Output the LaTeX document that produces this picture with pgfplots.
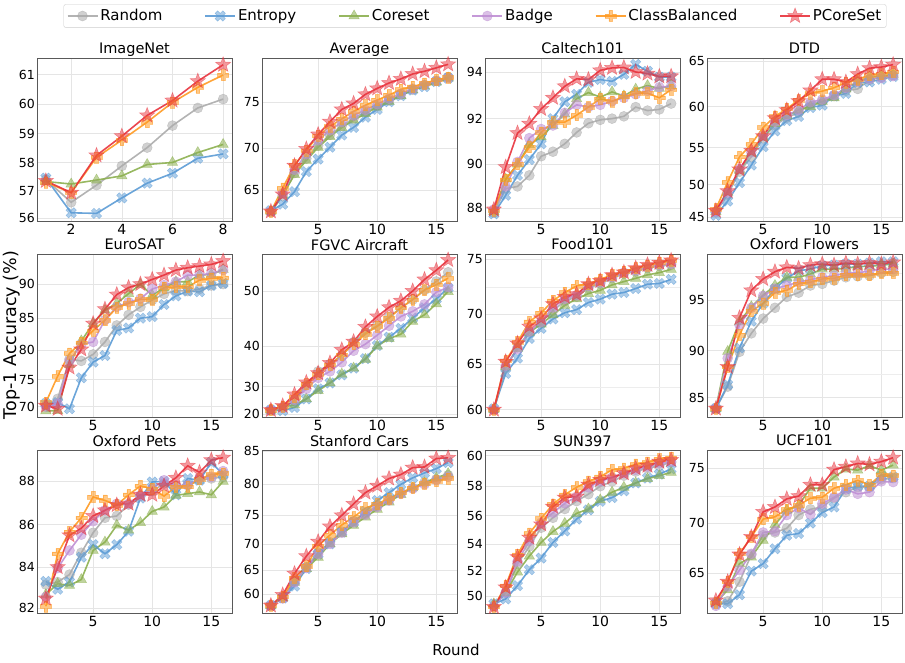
\documentclass[border=0pt]{standalone}
\usepackage{fontspec}
\setmainfont{DejaVu Sans}
\usepackage{pgfplots}
\pgfplotsset{compat=1.18}

\definecolor{cR}{HTML}{ABABAB}
\definecolor{cE}{HTML}{5B9BD5}
\definecolor{cC}{HTML}{8CB04F}
\definecolor{cB}{HTML}{BF8FD4}
\definecolor{cCB}{HTML}{FF9A22}
\definecolor{cP}{HTML}{E8323C}

% filled markers like matplotlib's '*', 'P' and 'X'
\pgfdeclareplotmark{fstar}{%
  \pgfpathmoveto{\pgfpointpolar{90}{\pgfplotmarksize}}%
  \pgfpathlineto{\pgfpointpolar{126}{0.42\pgfplotmarksize}}%
  \pgfpathlineto{\pgfpointpolar{162}{\pgfplotmarksize}}%
  \pgfpathlineto{\pgfpointpolar{198}{0.42\pgfplotmarksize}}%
  \pgfpathlineto{\pgfpointpolar{234}{\pgfplotmarksize}}%
  \pgfpathlineto{\pgfpointpolar{270}{0.42\pgfplotmarksize}}%
  \pgfpathlineto{\pgfpointpolar{306}{\pgfplotmarksize}}%
  \pgfpathlineto{\pgfpointpolar{342}{0.42\pgfplotmarksize}}%
  \pgfpathlineto{\pgfpointpolar{18}{\pgfplotmarksize}}%
  \pgfpathlineto{\pgfpointpolar{54}{0.42\pgfplotmarksize}}%
  \pgfpathclose\pgfusepathqfillstroke}
\pgfdeclareplotmark{fplus}{%
  \pgfpathmoveto{\pgfpoint{-0.33\pgfplotmarksize}{\pgfplotmarksize}}%
  \pgfpathlineto{\pgfpoint{0.33\pgfplotmarksize}{\pgfplotmarksize}}%
  \pgfpathlineto{\pgfpoint{0.33\pgfplotmarksize}{0.33\pgfplotmarksize}}%
  \pgfpathlineto{\pgfpoint{\pgfplotmarksize}{0.33\pgfplotmarksize}}%
  \pgfpathlineto{\pgfpoint{\pgfplotmarksize}{-0.33\pgfplotmarksize}}%
  \pgfpathlineto{\pgfpoint{0.33\pgfplotmarksize}{-0.33\pgfplotmarksize}}%
  \pgfpathlineto{\pgfpoint{0.33\pgfplotmarksize}{-\pgfplotmarksize}}%
  \pgfpathlineto{\pgfpoint{-0.33\pgfplotmarksize}{-\pgfplotmarksize}}%
  \pgfpathlineto{\pgfpoint{-0.33\pgfplotmarksize}{-0.33\pgfplotmarksize}}%
  \pgfpathlineto{\pgfpoint{-\pgfplotmarksize}{-0.33\pgfplotmarksize}}%
  \pgfpathlineto{\pgfpoint{-\pgfplotmarksize}{0.33\pgfplotmarksize}}%
  \pgfpathlineto{\pgfpoint{-0.33\pgfplotmarksize}{0.33\pgfplotmarksize}}%
  \pgfpathclose\pgfusepathqfillstroke}
\pgfdeclareplotmark{fx}{\pgftransformrotate{45}\pgfuseplotmark{fplus}}

\pgfplotsset{
  panel/.style={
    width=195pt, height=163pt, scale only axis, anchor=south west,
    xmin=0.25, xmax=16.75, xtick={5,10,15}, xticklabels={5,10,15},
    y coord trafo/.code={\pgfmathparse{exp(2.2*ln(##1/10))}},
    y coord inv trafo/.code={\pgfmathparse{10*exp(ln(##1)/2.2)}},
    axis line style={black!65, line width=0.8pt},
    xmajorgrids, ymajorgrids,
    grid style={black!10, line width=0.6pt},
    minor grid style={black!7, line width=0.5pt},
    major tick length=0pt, minor tick length=0pt,
    xticklabel style={font=\fontsize{14}{14}\selectfont, inner ysep=3pt},
    yticklabel style={font=\fontsize{12.5}{14}\selectfont, inner xsep=2pt},
    title style={font=\fontsize{14.5}{17}\selectfont, anchor=base, yshift=-2pt, inner ysep=1pt},
  },
  sR/.style={cR, line width=1.6pt, opacity=0.9, mark=*, mark size=5pt,
    mark options={opacity=0.55, line width=0.5pt}},
  sE/.style={cE, line width=1.6pt, opacity=0.9, mark=fx, mark size=5.5pt,
    mark options={opacity=0.5, line width=0.5pt}},
  sC/.style={cC, line width=1.6pt, opacity=0.9, mark=triangle*, mark size=6pt,
    mark options={opacity=0.55, line width=0.5pt}},
  sB/.style={cB, line width=1.6pt, opacity=0.9, mark=*, mark size=5pt,
    mark options={opacity=0.55, line width=0.5pt}},
  sCB/.style={cCB, line width=1.6pt, opacity=0.9, mark=fplus, mark size=5.5pt,
    mark options={opacity=0.55, line width=0.5pt}},
  sP/.style={cP, line width=1.6pt, opacity=0.9, mark=fstar, mark size=8pt,
    mark options={opacity=0.5, line width=0.5pt}},
}

\begin{document}
\begin{tikzpicture}
\useasboundingbox (0,0) rectangle (905pt,662pt);

% ---------------- row 1 ----------------
\begin{axis}[panel, at={(37pt,441pt)}, title={ImageNet},
  xmin=0.65, xmax=8.35, xtick={2,4,6,8}, xticklabels={2,4,6,8},
  ymin=55.90, ymax=61.54, ytick={56,57,58,59,60,61}, yticklabels={56,57,58,59,60,61}]
\addplot[sR] coordinates {(1,57.40)(2,56.58)(3,57.20)(4,57.88)(5,58.52)(6,59.28)(7,59.88)(8,60.18)};
\addplot[sE] coordinates {(1,57.45)(2,56.20)(3,56.18)(4,56.74)(5,57.27)(6,57.62)(7,58.15)(8,58.30)};
\addplot[sC] coordinates {(1,57.33)(2,57.24)(3,57.38)(4,57.53)(5,57.93)(6,58.00)(7,58.35)(8,58.63)};
\addplot[sCB] coordinates {(1,57.30)(2,56.93)(3,58.18)(4,58.78)(5,59.40)(6,60.07)(7,60.57)(8,60.98)};
\addplot[sP] coordinates {(1,57.35)(2,56.93)(3,58.25)(4,58.92)(5,59.63)(6,60.13)(7,60.78)(8,61.32)};
\end{axis}

\begin{axis}[panel, at={(262pt,441pt)}, title={Average},
  ymin=61.04, ymax=79.48, ytick={65,70,75}, yticklabels={65,70,75},
  legend columns=6, legend cell align=left,
  legend style={at={(1.0923,1.2577)}, anchor=center, draw=black!20, rounded corners=2pt,
    font=\fontsize{15}{17}\selectfont, inner sep=3pt,
    /tikz/every even column/.append style={column sep=40pt}},
  legend image code/.code={\draw[mark repeat=2,mark phase=2,#1] plot coordinates {(0pt,0pt) (15pt,0pt) (30pt,0pt)};}]
\addplot[sR] coordinates {(1,62.2)(2,64.3)(3,67.1)(4,68.8)(5,70.3)(6,71.5)(7,72.5)(8,73.3)(9,74.0)(10,74.6)(11,75.2)(12,75.8)(13,76.3)(14,76.8)(15,77.2)(16,77.6)};
\addplot[sE] coordinates {(1,62.4)(2,63.24)(3,64.83)(4,67.27)(5,68.75)(6,70.11)(7,71.47)(8,72.32)(9,73.42)(10,74.26)(11,75.07)(12,75.69)(13,76.28)(14,76.62)(15,77.14)(16,77.48)};
\addplot[sC] coordinates {(1,62.3)(2,64.4)(3,66.9)(4,68.6)(5,70.1)(6,71.3)(7,72.3)(8,73.1)(9,73.8)(10,74.5)(11,75.1)(12,75.7)(13,76.3)(14,76.7)(15,77.1)(16,77.5)};
\addplot[sB] coordinates {(1,62.3)(2,64.6)(3,67.5)(4,69.3)(5,70.9)(6,72.0)(7,72.9)(8,73.6)(9,74.2)(10,74.8)(11,75.4)(12,75.9)(13,76.4)(14,76.8)(15,77.2)(16,77.5)};
\addplot[sCB] coordinates {(1,62.3)(2,65.25)(3,68.05)(4,69.73)(5,71.4)(6,72.43)(7,73.24)(8,74.04)(9,74.7)(10,75.24)(11,75.76)(12,76.34)(13,76.62)(14,76.97)(15,77.31)(16,77.55)};
\addplot[sP] coordinates {(1,62.31)(2,64.5)(3,67.97)(4,69.92)(5,71.54)(6,72.94)(7,74.26)(8,74.89)(9,75.83)(10,76.45)(11,77.0)(12,77.41)(13,77.9)(14,78.17)(15,78.52)(16,78.86)};
\legend{Random,Entropy,Coreset,Badge,ClassBalanced,PCoreSet}
\end{axis}

\begin{axis}[panel, at={(485pt,441pt)}, title={Caltech101},
  ymin=87.42, ymax=94.59, ytick={88,90,92,94}, yticklabels={88,90,92,94}]
\addplot[sR] coordinates {(1,87.8)(2,88.9)(3,89.0)(4,89.5)(5,90.35)(6,90.55)(7,90.9)(8,91.4)(9,91.8)(10,91.95)(11,92.0)(12,92.1)(13,92.5)(14,92.35)(15,92.4)(16,92.65)};
\addplot[sE] coordinates {(1,87.75)(2,88.6)(3,89.5)(4,90.2)(5,90.9)(6,92.0)(7,92.73)(8,93.05)(9,93.56)(10,93.68)(11,93.6)(12,93.9)(13,94.32)(14,94.03)(15,93.78)(16,93.78)};
\addplot[sC] coordinates {(1,87.85)(2,89.33)(3,90.0)(4,90.86)(5,91.2)(6,91.7)(7,92.2)(8,92.86)(9,93.12)(10,92.93)(11,93.15)(12,92.98)(13,93.27)(14,93.42)(15,93.3)(16,93.42)};
\addplot[sB] coordinates {(1,87.95)(2,89.0)(3,90.1)(4,91.15)(5,91.55)(6,91.7)(7,92.25)(8,92.6)(9,92.5)(10,92.6)(11,92.75)(12,92.9)(13,93.05)(14,93.2)(15,93.35)(16,93.4)};
\addplot[sCB] coordinates {(1,87.9)(2,89.3)(3,90.0)(4,90.75)(5,91.4)(6,91.85)(7,91.85)(8,92.15)(9,92.5)(10,92.85)(11,92.75)(12,92.95)(13,93.1)(14,93.1)(15,92.9)(16,93.25)};
\addplot[sP] coordinates {(1,87.95)(2,89.87)(3,91.37)(4,91.78)(5,92.42)(6,92.9)(7,93.39)(8,93.71)(9,93.68)(10,94.07)(11,94.17)(12,94.19)(13,94.0)(14,93.93)(15,93.81)(16,93.82)};
\end{axis}

\begin{axis}[panel, at={(707pt,441pt)}, title={DTD},
  ymin=44.38, ymax=65.33, ytick={45,50,55,60,65}, yticklabels={45,50,55,60,65}]
\addplot[sR] coordinates {(1,45.8)(2,48.5)(3,51.8)(4,53.8)(5,56.2)(6,57.8)(7,58.7)(8,59.3)(9,60.3)(10,60.6)(11,61.2)(12,61.8)(13,62.0)(14,63.0)(15,63.3)(16,63.5)};
\addplot[sE] coordinates {(1,45.3)(2,47.55)(3,50.27)(4,52.7)(5,55.12)(6,57.1)(7,58.35)(8,58.84)(9,59.88)(10,60.15)(11,61.19)(12,61.49)(13,62.69)(14,62.76)(15,63.06)(16,63.36)};
\addplot[sC] coordinates {(1,45.9)(2,48.9)(3,52.0)(4,54.3)(5,56.3)(6,58.0)(7,58.9)(8,59.6)(9,60.0)(10,60.6)(11,61.0)(12,62.0)(13,62.8)(14,63.3)(15,63.4)(16,63.6)};
\addplot[sB] coordinates {(1,45.9)(2,48.8)(3,52.2)(4,54.4)(5,56.5)(6,58.2)(7,59.0)(8,59.6)(9,60.5)(10,60.8)(11,61.3)(12,62.1)(13,62.8)(14,63.1)(15,63.2)(16,63.4)};
\addplot[sCB] coordinates {(1,46.3)(2,50.35)(3,53.8)(4,55.45)(5,57.52)(6,58.84)(7,59.75)(8,60.75)(9,61.49)(10,61.75)(11,62.13)(12,62.69)(13,63.06)(14,63.51)(15,63.62)(16,63.88)};
\addplot[sP] coordinates {(1,46.05)(2,49.03)(3,52.12)(4,54.6)(5,56.45)(6,58.64)(7,59.59)(8,60.63)(9,61.83)(10,63.06)(11,63.06)(12,62.76)(13,63.62)(14,64.25)(15,64.37)(16,64.63)};
\end{axis}

% ---------------- row 2 ----------------
\begin{axis}[panel, at={(37pt,245pt)}, title={EuroSAT},
  ymin=68.0, ymax=94.15, ytick={70,75,80,85,90}, yticklabels={70,75,80,85,90}]
\addplot[sR] coordinates {(1,70.3)(2,71.5)(3,78.5)(4,78.2)(5,79.3)(6,81.3)(7,83.9)(8,85.5)(9,86.7)(10,87.7)(11,88.6)(12,89.1)(13,89.0)(14,89.3)(15,89.8)(16,90.0)};
\addplot[sE] coordinates {(1,70.6)(2,70.8)(3,69.6)(4,75.3)(5,78.0)(6,79.1)(7,83.1)(8,83.5)(9,85.0)(10,85.24)(11,87.05)(12,88.3)(13,89.0)(14,88.9)(15,89.8)(16,90.1)};
\addplot[sC] coordinates {(1,69.2)(2,69.25)(3,77.6)(4,81.47)(5,84.18)(6,86.2)(7,87.2)(8,88.64)(9,89.95)(10,88.4)(11,89.47)(12,90.33)(13,90.33)(14,91.27)(15,91.36)(16,92.05)};
\addplot[sB] coordinates {(1,70.0)(2,70.6)(3,78.2)(4,80.9)(5,81.3)(6,84.73)(7,86.7)(8,87.4)(9,87.9)(10,89.3)(11,89.85)(12,90.33)(13,91.27)(14,91.27)(15,91.5)(16,91.96)};
\addplot[sCB] coordinates {(1,70.8)(2,75.6)(3,79.45)(4,81.2)(5,83.1)(6,84.7)(7,86.6)(8,87.2)(9,87.8)(10,87.8)(11,89.5)(12,89.6)(13,89.6)(14,90.56)(15,90.8)(16,90.9)};
\addplot[sP] coordinates {(1,70.2)(2,69.6)(3,77.09)(4,80.1)(5,84.18)(6,86.36)(7,88.5)(8,89.51)(9,90.0)(10,90.66)(11,91.27)(12,91.96)(13,92.28)(14,92.51)(15,92.74)(16,93.2)};
\end{axis}

\begin{axis}[panel, at={(262pt,245pt)}, title={FGVC Aircraft},
  ymin=18.49, ymax=55.55, ytick={20,30,40,50}, yticklabels={20,30,40,50}]
\addplot[sR] coordinates {(1,21.8)(2,22.7)(3,25.7)(4,30.4)(5,34.2)(6,36.0)(7,37.9)(8,40.8)(9,42.7)(10,44.0)(11,45.6)(12,47.2)(13,48.6)(14,50.15)(15,51.5)(16,52.9)};
\addplot[sE] coordinates {(1,21.8)(2,21.5)(3,22.9)(4,26.1)(5,29.4)(6,31.1)(7,33.3)(8,35.0)(9,37.25)(10,40.1)(11,41.8)(12,43.5)(13,45.4)(14,47.2)(15,48.7)(16,50.5)};
\addplot[sC] coordinates {(1,21.8)(2,23.0)(3,23.9)(4,26.1)(5,28.8)(6,31.1)(7,33.5)(8,35.0)(9,37.1)(10,40.0)(11,41.5)(12,42.4)(13,44.8)(14,46.0)(15,47.9)(16,49.9)};
\addplot[sB] coordinates {(1,21.8)(2,22.7)(3,25.7)(4,29.4)(5,32.5)(6,34.2)(7,36.4)(8,39.0)(9,40.4)(10,42.2)(11,44.0)(12,45.7)(13,46.6)(14,47.8)(15,49.8)(16,50.6)};
\addplot[sCB] coordinates {(1,21.8)(2,23.3)(3,26.7)(4,30.8)(5,33.5)(6,35.8)(7,38.1)(8,40.4)(9,42.4)(10,43.9)(11,45.4)(12,47.2)(13,48.6)(14,50.15)(15,51.0)(16,52.0)};
\addplot[sP] coordinates {(1,21.8)(2,23.5)(3,27.6)(4,31.25)(5,33.75)(6,36.25)(7,39.2)(8,40.9)(9,43.8)(10,45.7)(11,47.3)(12,48.4)(13,50.0)(14,51.8)(15,53.2)(16,54.7)};
\end{axis}

\begin{axis}[panel, at={(485pt,245pt)}, title={Food101},
  ymin=59.15, ymax=75.45, ytick={60,65,70,75}, yticklabels={60,65,70,75},
  minor ytick={62.5,67.5,72.5}, yminorgrids]
\addplot[sR] coordinates {(1,60)(2,64.6)(3,66.7)(4,68.2)(5,69.2)(6,70.3)(7,71.2)(8,71.6)(9,72.4)(10,72.8)(11,73.3)(12,73.7)(13,73.9)(14,74.2)(15,74.4)(16,74.5)};
\addplot[sE] coordinates {(1,60.1)(2,64.0)(3,65.6)(4,67.6)(5,68.6)(6,69.5)(7,70.1)(8,70.4)(9,71.07)(10,71.38)(11,71.84)(12,72.0)(13,72.36)(14,72.76)(15,72.82)(16,73.2)};
\addplot[sC] coordinates {(1,60)(2,64.7)(3,66.6)(4,68.2)(5,69.0)(6,69.9)(7,70.8)(8,71.4)(9,71.9)(10,72.2)(11,72.7)(12,73.0)(13,73.3)(14,73.6)(15,73.8)(16,74.1)};
\addplot[sB] coordinates {(1,60)(2,64.8)(3,66.5)(4,68.3)(5,69.2)(6,70.6)(7,71.4)(8,71.75)(9,72.6)(10,72.9)(11,73.4)(12,73.8)(13,74.0)(14,74.3)(15,74.5)(16,74.6)};
\addplot[sCB] coordinates {(1,60)(2,65.33)(3,67.23)(4,69.23)(5,70.09)(6,71.23)(7,72.0)(8,72.6)(9,72.8)(10,73.2)(11,73.6)(12,73.9)(13,74.2)(14,74.45)(15,74.7)(16,74.9)};
\addplot[sP] coordinates {(1,60)(2,65.23)(3,67.1)(4,68.77)(5,69.57)(6,70.92)(7,71.6)(8,71.84)(9,72.76)(10,73.07)(11,73.59)(12,73.83)(13,74.2)(14,74.5)(15,74.69)(16,74.9)};
\end{axis}

\begin{axis}[panel, at={(707pt,245pt)}, title={Oxford Flowers},
  ymin=82.85, ymax=99.3, ytick={85,90,95}, yticklabels={85,90,95},
  minor ytick={87.5,92.5,97.5}, yminorgrids]
\addplot[sR] coordinates {(1,83.8)(2,86.2)(3,89.86)(4,91.73)(5,93.2)(6,94.25)(7,95.3)(8,95.7)(9,96.38)(10,96.53)(11,96.84)(12,97.15)(13,97.24)(14,97.3)(15,97.55)(16,97.67)};
\addplot[sE] coordinates {(1,83.8)(2,86.4)(3,90.26)(4,92.94)(5,94.67)(6,96.07)(7,97.06)(8,97.76)(9,97.91)(10,98.22)(11,98.28)(12,98.37)(13,98.37)(14,98.47)(15,98.59)(16,98.59)};
\addplot[sC] coordinates {(1,83.8)(2,89.9)(3,92.9)(4,94.35)(5,95.46)(6,96.38)(7,97.15)(8,97.15)(9,97.45)(10,97.91)(11,97.91)(12,97.98)(13,98.16)(14,98.16)(15,98.28)(16,98.37)};
\addplot[sB] coordinates {(1,83.8)(2,89.2)(3,92.55)(4,94.25)(5,95.4)(6,96.07)(7,96.38)(8,96.69)(9,96.93)(10,97.15)(11,97.3)(12,97.55)(13,97.55)(14,97.76)(15,97.91)(16,97.91)};
\addplot[sCB] coordinates {(1,83.8)(2,88.3)(3,91.57)(4,93.92)(5,94.67)(6,95.7)(7,95.92)(8,96.53)(9,96.69)(10,96.99)(11,97.06)(12,97.36)(13,97.36)(14,97.36)(15,97.55)(16,97.55)};
\addplot[sP] coordinates {(1,83.8)(2,88.3)(3,93.27)(4,95.92)(5,96.99)(6,97.67)(7,98.07)(8,97.98)(9,98.28)(10,98.37)(11,98.28)(12,98.47)(13,98.37)(14,98.47)(15,98.37)(16,98.53)};
\end{axis}

% ---------------- row 3 ----------------
\begin{axis}[panel, at={(37pt,49pt)}, title={Oxford Pets},
  ymin=81.77, ymax=89.38, ytick={82,84,86,88}, yticklabels={82,84,86,88}]
\addplot[sR] coordinates {(1,83.16)(2,83.28)(3,83.64)(4,84.68)(5,85.62)(6,86.31)(7,86.4)(8,86.92)(9,87.31)(10,87.53)(11,87.88)(12,87.73)(13,87.83)(14,88.03)(15,88.11)(16,88.18)};
\addplot[sE] coordinates {(1,83.31)(2,82.93)(3,83.28)(4,84.47)(5,85.06)(6,84.63)(7,85.06)(8,85.69)(9,87.22)(10,87.95)(11,87.98)(12,87.37)(13,88.11)(14,88.03)(15,88.83)(16,88.29)};
\addplot[sC] coordinates {(1,82.67)(2,83.2)(3,83.12)(4,83.4)(5,84.79)(6,85.18)(7,85.97)(8,85.74)(9,86.09)(10,86.61)(11,86.81)(12,87.34)(13,87.42)(14,87.5)(15,87.37)(16,87.98)};
\addplot[sB] coordinates {(1,82.56)(2,83.95)(3,84.79)(4,85.53)(5,86.15)(6,86.66)(7,86.96)(8,86.96)(9,87.34)(10,87.65)(11,88.03)(12,87.8)(13,87.8)(14,88.14)(15,88.18)(16,88.44)};
\addplot[sCB] coordinates {(1,82.1)(2,84.63)(3,85.66)(4,86.31)(5,87.27)(6,87.11)(7,86.9)(8,87.37)(9,87.77)(10,87.65)(11,87.31)(12,87.73)(13,87.73)(14,88.08)(15,88.29)(16,88.34)};
\addplot[sP] coordinates {(1,82.48)(2,84.0)(3,85.5)(4,85.83)(5,86.4)(6,86.66)(7,86.9)(8,86.96)(9,87.37)(10,87.37)(11,87.77)(12,88.14)(13,88.68)(14,88.38)(15,88.93)(16,89.04)};
\end{axis}

\begin{axis}[panel, at={(262pt,49pt)}, title={Stanford Cars},
  ymin=55.63, ymax=85.14, ytick={60,65,70,75,80,85}, yticklabels={60,65,70,75,80,85}]
\addplot[sR] coordinates {(1,57.4)(2,59.1)(3,62.7)(4,65.6)(5,68.4)(6,70.3)(7,72.2)(8,74.0)(9,75.3)(10,76.6)(11,77.6)(12,78.7)(13,79.45)(14,80.3)(15,80.8)(16,81.4)};
\addplot[sE] coordinates {(1,57.4)(2,59.1)(3,61.7)(4,65.3)(5,68.1)(6,70.0)(7,72.1)(8,73.8)(9,75.65)(10,77.45)(11,78.7)(12,80.0)(13,81.0)(14,81.75)(15,82.4)(16,83.3)};
\addplot[sC] coordinates {(1,57.4)(2,59.2)(3,62.5)(4,65.3)(5,67.5)(6,70.0)(7,71.8)(8,73.3)(9,74.7)(10,76.0)(11,77.2)(12,78.4)(13,79.45)(14,80.3)(15,81.0)(16,81.65)};
\addplot[sB] coordinates {(1,57.4)(2,59.0)(3,62.5)(4,65.4)(5,68.1)(6,70.0)(7,72.0)(8,73.8)(9,75.1)(10,76.4)(11,77.45)(12,78.5)(13,79.35)(14,80.0)(15,80.65)(16,81.15)};
\addplot[sCB] coordinates {(1,57.4)(2,59.4)(3,63.4)(4,65.8)(5,69.6)(6,71.6)(7,73.35)(8,74.7)(9,76.2)(10,76.9)(11,77.8)(12,78.7)(13,79.45)(14,80.15)(15,80.5)(16,80.9)};
\addplot[sP] coordinates {(1,57.4)(2,59.8)(3,64.3)(4,67.7)(5,70.4)(6,73.1)(7,75.0)(8,76.9)(9,78.7)(10,79.8)(11,80.9)(12,81.5)(13,82.55)(14,82.65)(15,83.9)(16,84.0)};
\end{axis}

\begin{axis}[panel, at={(485pt,49pt)}, title={SUN397},
  ymin=48.66, ymax=60.36, ytick={50,52,54,56,58,60}, yticklabels={50,52,54,56,58,60}]
\addplot[sR] coordinates {(1,49.2)(2,50.3)(3,52.5)(4,53.8)(5,55.15)(6,55.85)(7,56.46)(8,57.0)(9,57.47)(10,58.0)(11,58.32)(12,58.7)(13,58.97)(14,59.18)(15,59.35)(16,59.57)};
\addplot[sE] coordinates {(1,49.4)(2,49.8)(3,50.85)(4,52.08)(5,52.95)(6,54.1)(7,54.92)(8,55.76)(9,56.4)(10,56.98)(11,57.24)(12,57.7)(13,58.22)(14,58.54)(15,58.8)(16,59.14)};
\addplot[sC] coordinates {(1,49.4)(2,50.3)(3,51.9)(4,53.1)(5,54.1)(6,54.88)(7,55.46)(8,56.16)(9,56.46)(10,57.08)(11,57.6)(12,57.93)(13,58.22)(14,58.5)(15,58.7)(16,58.92)};
\addplot[sB] coordinates {(1,49.2)(2,50.3)(3,52.7)(4,54.2)(5,55.5)(6,56.2)(7,56.85)(8,57.3)(9,57.93)(10,58.32)(11,58.58)(12,58.86)(13,59.08)(14,59.29)(15,59.5)(16,59.61)};
\addplot[sCB] coordinates {(1,49.16)(2,50.85)(3,53.2)(4,54.75)(5,55.8)(6,56.78)(7,57.43)(8,57.94)(9,58.32)(10,58.64)(11,59.08)(12,59.18)(13,59.44)(14,59.57)(15,59.78)(16,59.87)};
\addplot[sP] coordinates {(1,49.16)(2,50.72)(3,53.03)(4,54.45)(5,55.39)(6,56.62)(7,57.24)(8,57.31)(9,58.11)(10,58.43)(11,58.58)(12,58.86)(13,59.18)(14,59.35)(15,59.61)(16,59.72)};
\end{axis}

\begin{axis}[panel, at={(707pt,49pt)}, title={UCF101},
  ymin=60.7, ymax=76.6, ytick={65,70,75}, yticklabels={65,70,75},
  minor ytick={62.5,67.5,72.5}, yminorgrids]
\addplot[sR] coordinates {(1,61.67)(2,62.02)(3,64.12)(4,66.9)(5,68.83)(6,69.1)(7,69.5)(8,70.76)(9,71.3)(10,71.52)(11,72.33)(12,72.88)(13,73.33)(14,73.33)(15,74.03)(16,74.15)};
\addplot[sE] coordinates {(1,61.74)(2,61.74)(3,62.72)(4,65.23)(5,66.0)(6,67.5)(7,68.83)(8,69.0)(9,70.0)(10,71.0)(11,71.52)(12,73.18)(13,73.42)(14,73.42)(15,74.33)(16,74.24)};
\addplot[sC] coordinates {(1,61.84)(2,63.25)(3,66.0)(4,66.67)(5,68.33)(6,69.85)(7,71.21)(8,71.67)(9,73.24)(10,73.24)(11,74.24)(12,74.94)(13,74.85)(14,75.24)(15,74.85)(16,75.29)};
\addplot[sB] coordinates {(1,61.5)(2,63.6)(3,65.33)(4,67.0)(5,69.1)(6,69.23)(7,70.76)(8,71.42)(9,70.82)(10,71.82)(11,72.42)(12,73.12)(13,72.73)(14,72.88)(15,73.85)(16,73.79)};
\addplot[sCB] coordinates {(1,61.84)(2,64.12)(3,67.0)(4,68.67)(5,70.39)(6,70.6)(7,71.3)(8,71.67)(9,72.33)(10,72.42)(11,73.24)(12,73.55)(13,73.94)(14,73.55)(15,74.45)(16,74.39)};
\addplot[sP] coordinates {(1,62.09)(2,64.12)(3,66.93)(4,68.67)(5,71.06)(6,71.52)(7,72.27)(8,72.52)(9,73.55)(10,73.55)(11,74.9)(12,75.15)(13,75.44)(14,75.35)(15,75.59)(16,75.94)};
\end{axis}

\node[rotate=90, font=\fontsize{17.5}{20}\selectfont] at (12pt,327pt) {Top-1 Accuracy (\%)};
\node[font=\fontsize{15}{18}\selectfont] at (456pt,12pt) {Round};
\end{tikzpicture}
\end{document}
